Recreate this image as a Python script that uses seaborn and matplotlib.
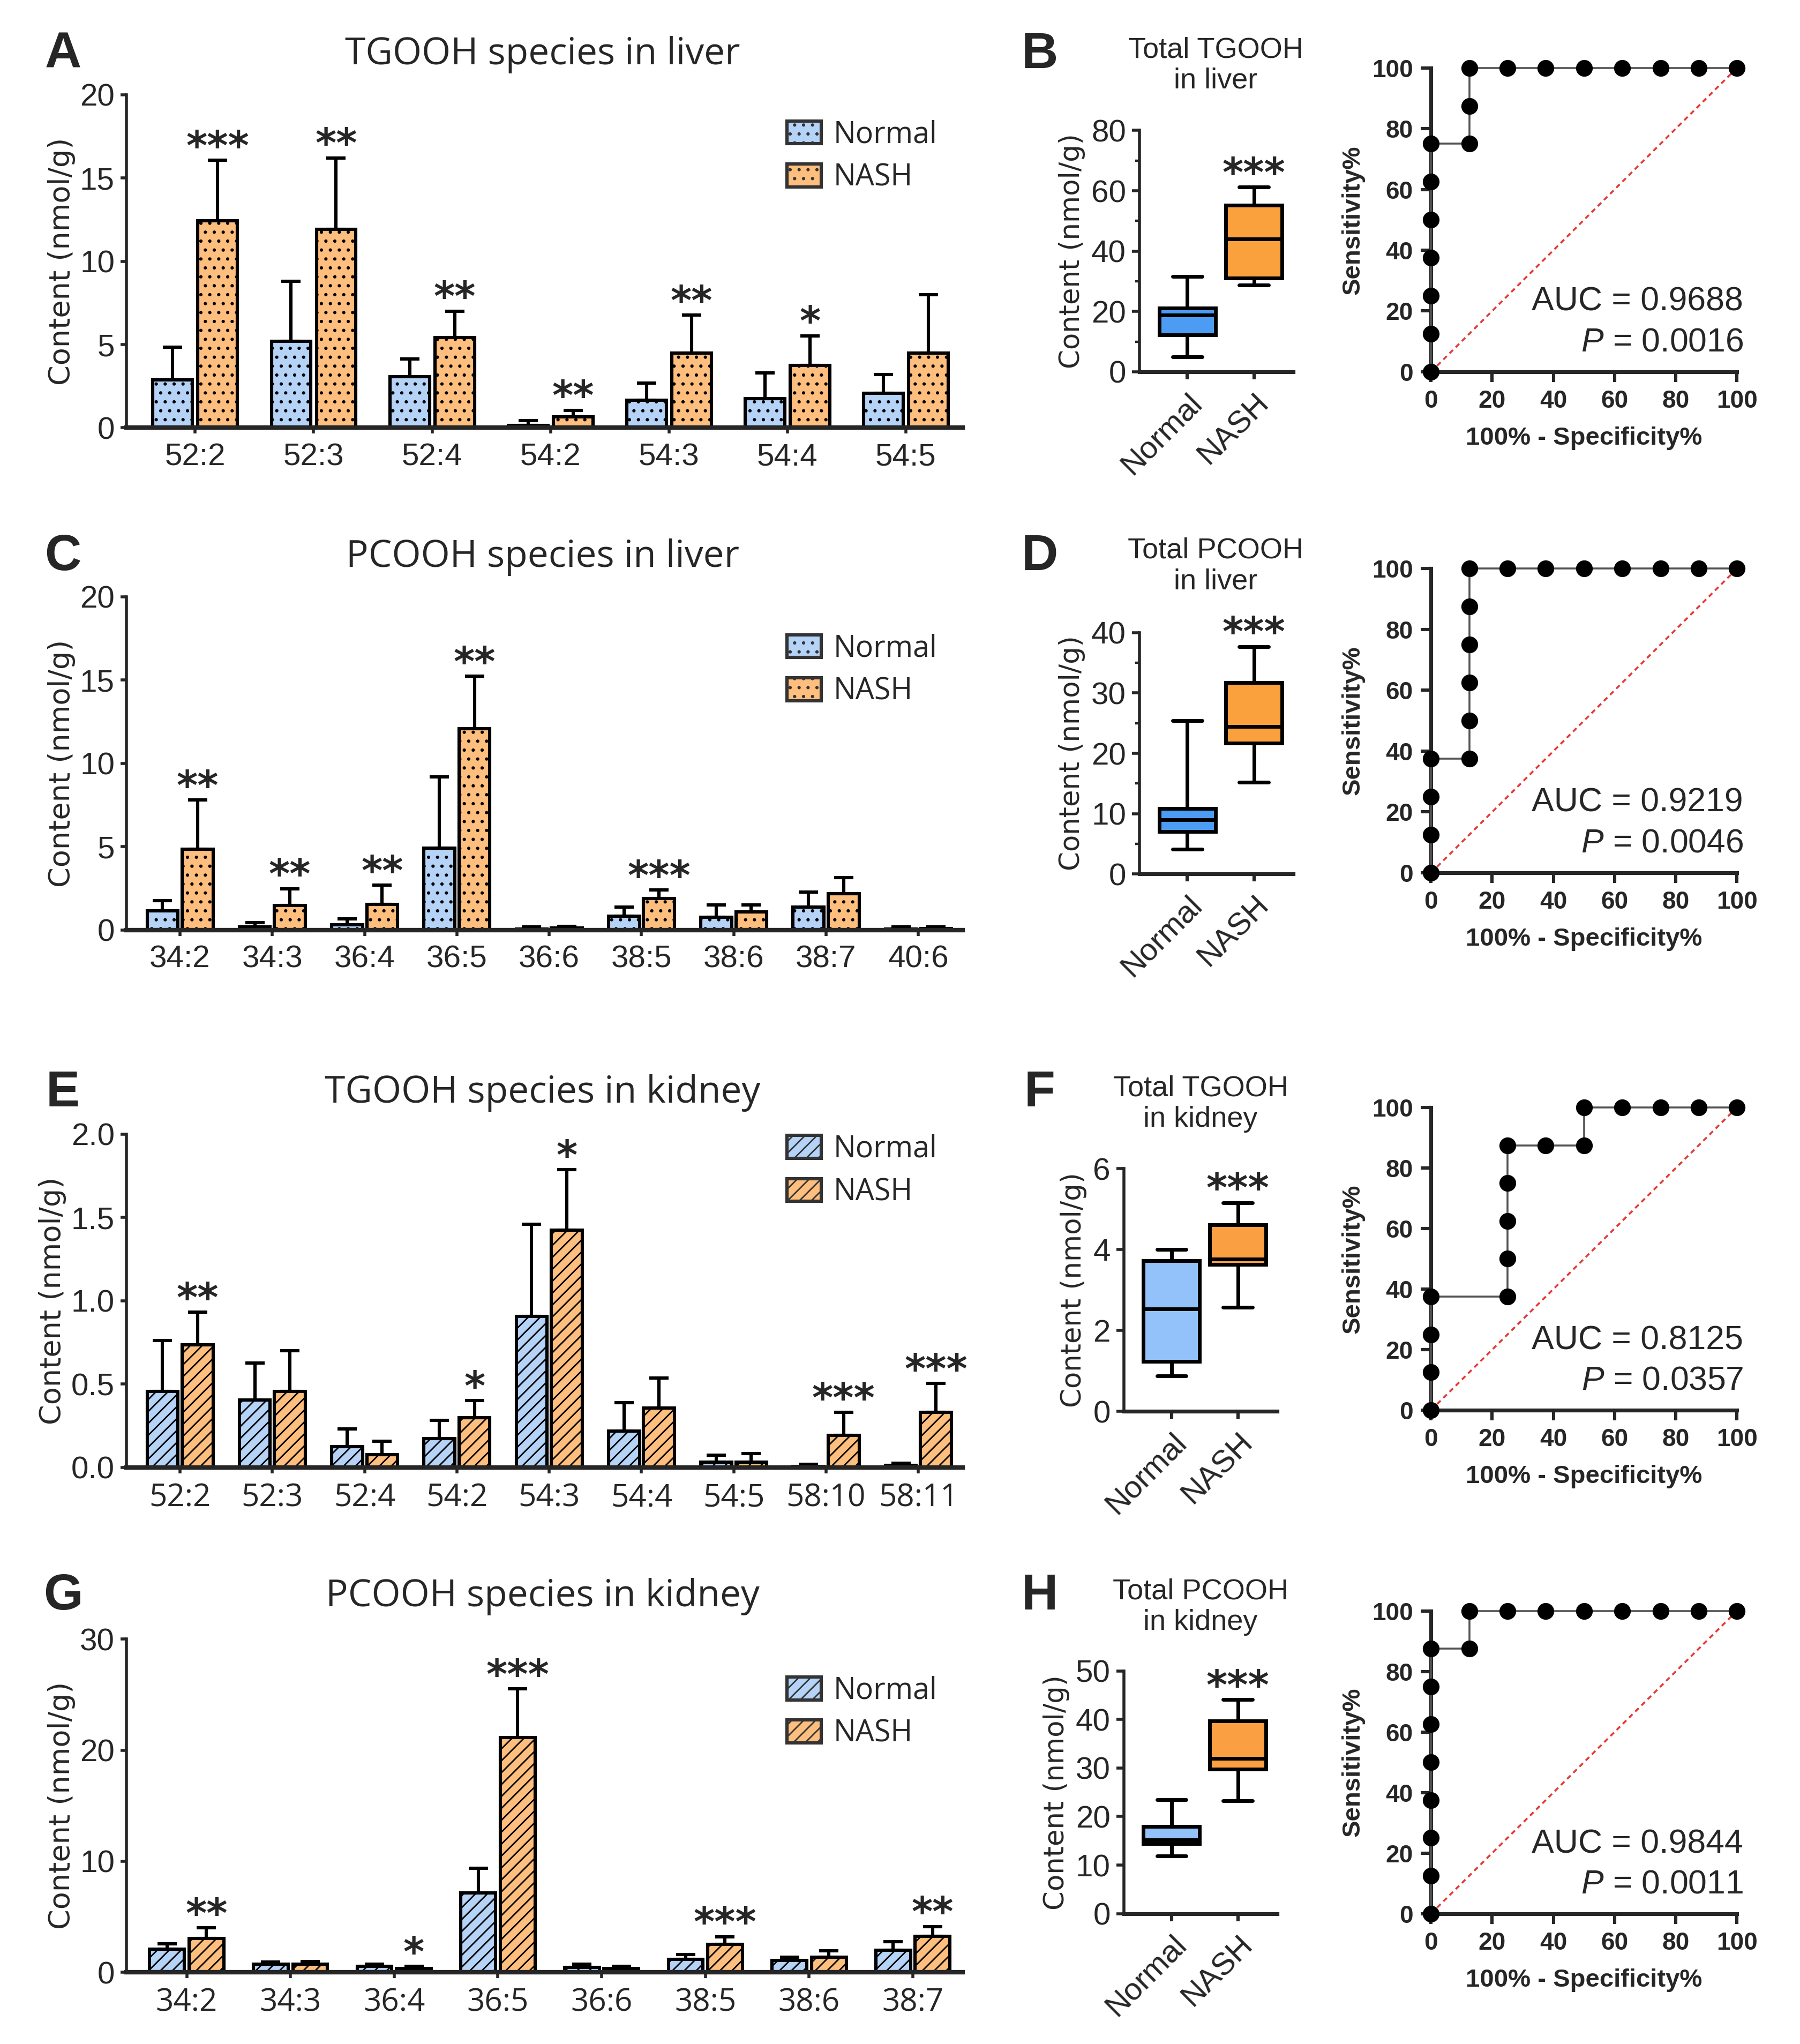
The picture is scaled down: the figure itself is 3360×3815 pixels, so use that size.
import numpy as np
import pandas as pd
import matplotlib
matplotlib.use('Agg')
import matplotlib.pyplot as plt
import seaborn as sns
from matplotlib.patches import Patch
from matplotlib.ticker import MultipleLocator

sns.set_theme(style='ticks')
plt.rcParams['font.family'] = ['Liberation Sans', 'DejaVu Sans']
plt.rcParams['mathtext.fontset'] = 'custom'
plt.rcParams['mathtext.rm'] = 'Liberation Sans'
plt.rcParams['mathtext.it'] = 'Liberation Sans:italic'
plt.rcParams['hatch.linewidth'] = 1.0

# ---------------- data ----------------
groups = ['Normal', 'NASH']

tg_liver_species = ['52:2', '52:3', '52:4', '54:2', '54:3', '54:4', '54:5']
tg_liver_normal = [2.87, 5.19, 3.06, 0.15, 1.67, 1.76, 2.07]
tg_liver_normal_sd = [1.98, 3.61, 1.07, 0.28, 1.02, 1.54, 1.13]
tg_liver_nash = [12.44, 11.90, 5.43, 0.67, 4.50, 3.76, 4.50]
tg_liver_nash_sd = [3.62, 4.30, 1.57, 0.39, 2.26, 1.76, 3.50]
tg_liver_sig = ['***', '**', '**', '**', '**', '*', '']

pc_liver_species = ['34:2', '34:3', '36:4', '36:5', '36:6', '38:5', '38:6', '38:7', '40:6']
pc_liver_normal = [1.15, 0.18, 0.30, 4.90, 0.07, 0.83, 0.78, 1.39, 0.07]
pc_liver_normal_sd = [0.62, 0.26, 0.37, 4.29, 0.11, 0.54, 0.74, 0.90, 0.13]
pc_liver_nash = [4.84, 1.46, 1.55, 12.10, 0.11, 1.89, 1.09, 2.18, 0.08]
pc_liver_nash_sd = [2.96, 1.02, 1.13, 3.13, 0.11, 0.51, 0.43, 0.96, 0.12]
pc_liver_sig = ['**', '**', '**', '**', '', '***', '', '', '']

tg_kidney_species = ['52:2', '52:3', '52:4', '54:2', '54:3', '54:4', '54:5', '58:10', '58:11']
tg_kidney_normal = [0.457, 0.404, 0.126, 0.174, 0.906, 0.217, 0.032, 0.006, 0.011]
tg_kidney_normal_sd = [0.305, 0.222, 0.104, 0.109, 0.554, 0.173, 0.042, 0.013, 0.015]
tg_kidney_nash = [0.736, 0.457, 0.075, 0.300, 1.425, 0.357, 0.032, 0.192, 0.332]
tg_kidney_nash_sd = [0.196, 0.245, 0.083, 0.100, 0.362, 0.179, 0.051, 0.138, 0.172]
tg_kidney_sig = ['**', '', '', '*', '*', '', '', '***', '***']

pc_kidney_species = ['34:2', '34:3', '36:4', '36:5', '36:6', '38:5', '38:6', '38:7']
pc_kidney_normal = [2.08, 0.72, 0.52, 7.15, 0.43, 1.15, 1.07, 1.96]
pc_kidney_normal_sd = [0.49, 0.20, 0.23, 2.22, 0.29, 0.44, 0.29, 0.78]
pc_kidney_nash = [3.03, 0.72, 0.35, 21.14, 0.32, 2.51, 1.36, 3.26]
pc_kidney_nash_sd = [0.98, 0.23, 0.17, 4.39, 0.23, 0.69, 0.57, 0.86]
pc_kidney_sig = ['**', '', '*', '***', '', '***', '', '**']

# box stats: whisker low, Q1, median, Q3, whisker high
tg_liver_box_normal = [4.9, 12.2, 18.9, 21.1, 31.6]
tg_liver_box_nash = [28.7, 31.1, 44.1, 55.3, 61.2]
pc_liver_box_normal = [4.1, 7.05, 9.0, 10.9, 25.4]
pc_liver_box_nash = [15.2, 21.7, 24.4, 31.7, 37.7]
tg_kidney_box_normal = [0.88, 1.23, 2.54, 3.72, 4.0]
tg_kidney_box_nash = [2.57, 3.64, 3.77, 4.62, 5.16]
pc_kidney_box_normal = [11.9, 14.4, 15.2, 18.0, 23.5]
pc_kidney_box_nash = [23.3, 29.8, 32.0, 39.7, 44.1]
box_sig = '***'

# ROC curves (100% - specificity%, sensitivity%)
roc_tg_liver_fpr = [0, 0, 0, 0, 0, 0, 0, 12.5, 12.5, 12.5, 25, 37.5, 50, 62.5, 75, 87.5, 100]
roc_tg_liver_tpr = [0, 12.5, 25, 37.5, 50, 62.5, 75, 75, 87.5, 100, 100, 100, 100, 100, 100, 100, 100]
roc_pc_liver_fpr = [0, 0, 0, 0, 12.5, 12.5, 12.5, 12.5, 12.5, 12.5, 25, 37.5, 50, 62.5, 75, 87.5, 100]
roc_pc_liver_tpr = [0, 12.5, 25, 37.5, 37.5, 50, 62.5, 75, 87.5, 100, 100, 100, 100, 100, 100, 100, 100]
roc_tg_kidney_fpr = [0, 0, 0, 0, 25, 25, 25, 25, 25, 37.5, 50, 50, 62.5, 75, 87.5, 100]
roc_tg_kidney_tpr = [0, 12.5, 25, 37.5, 37.5, 50, 62.5, 75, 87.5, 87.5, 87.5, 100, 100, 100, 100, 100]
roc_pc_kidney_fpr = [0, 0, 0, 0, 0, 0, 0, 0, 12.5, 12.5, 25, 37.5, 50, 62.5, 75, 87.5, 100]
roc_pc_kidney_tpr = [0, 12.5, 25, 37.5, 50, 62.5, 75, 87.5, 87.5, 100, 100, 100, 100, 100, 100, 100, 100]
roc_auc = ['0.9688', '0.9219', '0.8125', '0.9844']
roc_p = ['0.0016', '0.0046', '0.0357', '0.0011']

bar_titles = ['TGOOH species in liver', 'PCOOH species in liver',
              'TGOOH species in kidney', 'PCOOH species in kidney']
box_titles = ['Total TGOOH\nin liver', 'Total PCOOH\nin liver',
              'Total TGOOH\nin kidney', 'Total PCOOH\nin kidney']
panel_letters = ['A', 'B', 'C', 'D', 'E', 'F', 'G', 'H']
ylabel_text = 'Content (nmol/g)'

# ---------------- styles ----------------
bar_colors = {'Normal': '#B5D3F7', 'NASH': '#FDBE7E'}
box_colors_liver = ['#4D9CF3', '#FAA03C']
box_colors_kidney = ['#93C1FA', '#FBA042']
STAR_FONT = ['DejaVu Sans']

fig = plt.figure(figsize=(16.8, 19.075), dpi=200)

row_bar_bottoms = [0.7907, 0.545, 0.2821, 0.0351]
row_box = [(0.633, 0.8181, 0.0855, 0.1181), (0.633, 0.5724, 0.0855, 0.1181),
           (0.6243, 0.3095, 0.0851, 0.1187), (0.6243, 0.0638, 0.0851, 0.1187)]
row_roc_bottoms = [0.8181, 0.573, 0.3101, 0.0638]
row_roc_heights = [0.1487, 0.1488, 0.1481, 0.1481]
title_y = [0.9732, 0.7275, 0.4652, 0.2189]
box_title_pos = [(0.6754, 0.968), (0.6754, 0.723), (0.667, 0.46), (0.667, 0.2138)]
legend_top = [0.925, 0.89, 1.0, 0.89]


def star(ax, x, y, s):
    if s:
        ax.annotate(s, xy=(x, y), xytext=(0, 0.5), textcoords='offset points',
                    ha='center', va='baseline', fontsize=27, fontweight='bold',
                    family=STAR_FONT, annotation_clip=False)


def bar_panel(ax, species, nm, nm_sd, na, na_sd, sig, ymax, ystep, hatch, xfont, leg_top):
    k = len(species)
    df = pd.DataFrame({'species': species * 2,
                       'group': ['Normal'] * k + ['NASH'] * k,
                       'value': list(nm) + list(na)})
    sns.barplot(data=df, x='species', y='value', hue='group', order=species,
                hue_order=groups, palette=bar_colors, saturation=1, width=0.76,
                gap=0.12, errorbar=None, edgecolor='black', linewidth=2.2,
                legend=False, ax=ax)
    for cont, sds in zip(ax.containers, [nm_sd, na_sd]):
        xs = [b.get_x() + b.get_width() / 2 for b in cont]
        hs = [b.get_height() for b in cont]
        for b in cont:
            b.set_hatch(hatch)
            b.set_zorder(2)
        ax.errorbar(xs, hs, yerr=[np.zeros(k), sds], fmt='none', ecolor='black',
                    elinewidth=2.2, capsize=6.5, capthick=2.2, zorder=1)
    nash_cont = ax.containers[1]
    for b, sd, s in zip(nash_cont, na_sd, sig):
        star(ax, b.get_x() + b.get_width() / 2, b.get_height() + sd, s)
    ax.set_xlim(-0.58, k - 1 + 0.48)
    ax.set_ylim(0, ymax)
    ax.yaxis.set_major_locator(MultipleLocator(ystep))
    sns.despine(ax=ax)
    ax.spines['bottom'].set_linewidth(3.0)
    ax.spines['left'].set_linewidth(2.0)
    ax.tick_params(axis='x', length=4, width=2.0, labelsize=21, pad=6)
    ax.tick_params(axis='y', length=4, width=2.0, labelsize=21, pad=4)
    for t in ax.get_xticklabels():
        t.set_family(xfont)
    ax.set_xlabel('')
    ax.set_ylabel(ylabel_text, fontsize=19.5, family=['DejaVu Sans'], labelpad=3)
    handles = [Patch(facecolor=bar_colors[g], edgecolor='#333333', hatch=hatch, lw=2.2)
               for g in groups]
    ax.legend(handles, groups, loc='upper left', bbox_to_anchor=(0.79, leg_top),
              frameon=False, handlelength=1.15, handleheight=0.8,
              handletextpad=0.4, labelspacing=0.42, borderpad=0, borderaxespad=0,
              prop={'family': ['Open Sans'], 'size': 20})


def box_panel(ax, normal, nash, colors, ymax, ystep, minor):
    stats = []
    for v in (normal, nash):
        stats.append(dict(whislo=v[0], q1=v[1], med=v[2], q3=v[3], whishi=v[4], fliers=[]))
    lw = 2.5
    bp = ax.bxp(stats, positions=[0, 1], widths=0.845, patch_artist=True, showfliers=False,
                boxprops=dict(edgecolor='black', linewidth=lw),
                medianprops=dict(color='black', linewidth=lw),
                whiskerprops=dict(color='black', linewidth=lw),
                capprops=dict(color='black', linewidth=lw), capwidths=0.44)
    for patch, c in zip(bp['boxes'], colors):
        patch.set_facecolor(c)
    star(ax, 1, nash[4], box_sig)
    ax.set_xlim(-0.72, 1.59)
    ax.set_ylim(0, ymax)
    ax.yaxis.set_major_locator(MultipleLocator(ystep))
    if minor:
        ax.yaxis.set_minor_locator(MultipleLocator(ystep / 2))
    ax.set_xticks([0, 1])
    ax.set_xticklabels(groups, rotation=45, ha='right', rotation_mode='anchor')
    sns.despine(ax=ax)
    ax.spines['bottom'].set_linewidth(2.6)
    ax.spines['left'].set_linewidth(2.0)
    ax.tick_params(axis='x', length=5, width=2.2, labelsize=21, pad=6)
    ax.tick_params(axis='y', which='major', length=5, width=2.0, labelsize=21, pad=4)
    ax.tick_params(axis='y', which='minor', length=3, width=1.6)
    ax.set_ylabel(ylabel_text, fontsize=18.5, family=['DejaVu Sans'], labelpad=4)


def roc_panel(ax, fpr, tpr, auc, p):
    ax.plot([0, 100], [0, 100], ls=(0, (2.5, 2)), color='#E53935', lw=1.3, zorder=1)
    sns.lineplot(x=fpr, y=tpr, sort=False, estimator=None, ax=ax, color='#555555',
                 lw=1.3, marker='o', markersize=10.5, markerfacecolor='black',
                 markeredgecolor='black', clip_on=False, zorder=4)
    ax.set_xlim(0, 100)
    ax.set_ylim(0, 100)
    ax.set_xticks(range(0, 101, 20))
    ax.set_yticks(range(0, 101, 20))
    sns.despine(ax=ax)
    for sp in ('bottom', 'left'):
        ax.spines[sp].set_linewidth(2.6)
    ax.tick_params(length=7, width=2.2, labelsize=16.5, pad=5)
    for t in ax.get_xticklabels() + ax.get_yticklabels():
        t.set_fontweight('bold')
    ax.set_xlabel('100% - Specificity%', fontsize=17, fontweight='bold', labelpad=9)
    ax.set_ylabel('Sensitivity%', fontsize=17, fontweight='bold', labelpad=5)
    ax.text(1.02, 0.23, f'AUC = {auc}', transform=ax.transAxes, ha='right', va='center',
            fontsize=22.5)
    ax.text(1.02, 0.097, r'$\it{P}$ = ' + p, transform=ax.transAxes, ha='right',
            va='center', fontsize=22.5)


bar_data = [
    (tg_liver_species, tg_liver_normal, tg_liver_normal_sd, tg_liver_nash, tg_liver_nash_sd, tg_liver_sig, 20, 5, '..', ['Liberation Sans']),
    (pc_liver_species, pc_liver_normal, pc_liver_normal_sd, pc_liver_nash, pc_liver_nash_sd, pc_liver_sig, 20, 5, '..', ['Liberation Sans']),
    (tg_kidney_species, tg_kidney_normal, tg_kidney_normal_sd, tg_kidney_nash, tg_kidney_nash_sd, tg_kidney_sig, 2.0, 0.5, '///', ['Open Sans']),
    (pc_kidney_species, pc_kidney_normal, pc_kidney_normal_sd, pc_kidney_nash, pc_kidney_nash_sd, pc_kidney_sig, 30, 10, '///', ['Open Sans']),
]
box_data = [
    (tg_liver_box_normal, tg_liver_box_nash, box_colors_liver, 80, 20, True),
    (pc_liver_box_normal, pc_liver_box_nash, box_colors_liver, 40, 10, True),
    (tg_kidney_box_normal, tg_kidney_box_nash, box_colors_kidney, 6, 2, False),
    (pc_kidney_box_normal, pc_kidney_box_nash, box_colors_kidney, 50, 10, False),
]
roc_data = [
    (roc_tg_liver_fpr, roc_tg_liver_tpr),
    (roc_pc_liver_fpr, roc_pc_liver_tpr),
    (roc_tg_kidney_fpr, roc_tg_kidney_tpr),
    (roc_pc_kidney_fpr, roc_pc_kidney_tpr),
]

for i in range(4):
    axb = fig.add_axes([0.0703, row_bar_bottoms[i], 0.4645, 0.163])
    sp, nm, nsd, na, asd, sg, ymax, ystep, hatch, xf = bar_data[i]
    bar_panel(axb, sp, nm, nsd, na, asd, sg, ymax, ystep, hatch, xf, legend_top[i])
    fig.text(0.3015, title_y[i], bar_titles[i], ha='center', va='center', fontsize=25,
             family=['Open Sans'])
    fig.text(0.035, title_y[i], panel_letters[2 * i], ha='center', va='center',
             fontsize=34, fontweight='bold')

    axx = fig.add_axes(list(row_box[i]))
    box_panel(axx, *box_data[i])
    fig.text(box_title_pos[i][0], box_title_pos[i][1], box_titles[i], ha='center',
             va='center', fontsize=19.5, linespacing=1.2)
    fig.text(0.5775, title_y[i], panel_letters[2 * i + 1], ha='center', va='center',
             fontsize=34, fontweight='bold')

    axr = fig.add_axes([0.795, row_roc_bottoms[i], 0.170, row_roc_heights[i]])
    roc_panel(axr, roc_data[i][0], roc_data[i][1], roc_auc[i], roc_p[i])

fig.savefig('out.png', dpi=200)
